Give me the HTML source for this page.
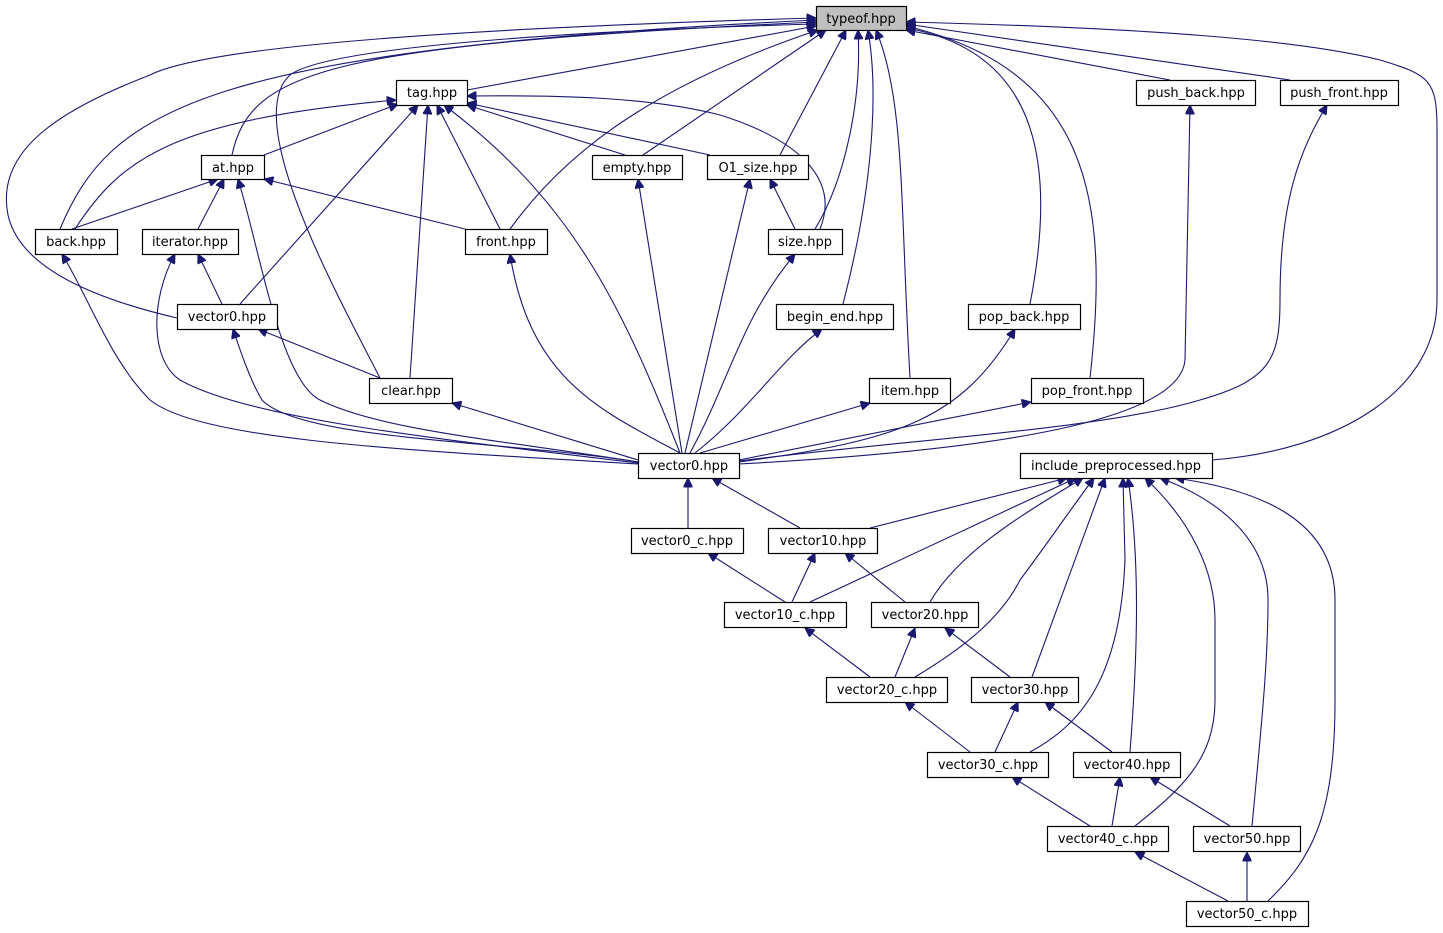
<!DOCTYPE html>
<html><head><meta charset="utf-8"><style>
html,body{margin:0;padding:0;background:#fff;}
svg{display:block}
text{font-family:"DejaVu Sans","Liberation Sans",sans-serif;font-size:13px;fill:#000;text-anchor:middle}
rect{fill:#fff;stroke:#000;stroke-width:1.2}
path{fill:none;stroke:#191970;stroke-width:1.1}
</style></head><body>
<svg width="1443" height="933" viewBox="0 0 1443 933" xmlns="http://www.w3.org/2000/svg">
<defs><marker id="a" viewBox="0 0 10 10" refX="10" refY="5" markerWidth="10" markerHeight="9" markerUnits="userSpaceOnUse" orient="auto"><path d="M0,0 L10,5 L0,10 z" style="fill:#191970;stroke:#191970"/></marker></defs>
<g marker-end="url(#a)">
<!-- to typeof -->
<path d="M467,90 L816,26"/>
<path d="M232,155 C250,70 330,45 816,22"/>
<path d="M60,229 C110,110 200,50 816,20"/>
<path d="M177,318 C100,300 20,270 8,215 C-5,150 60,110 150,75 C200,50 400,30 816,18"/>
<path d="M380,378 C340,300 240,120 290,75 C330,45 600,30 816,24"/>
<path d="M510,229 C560,160 640,90 818,30"/>
<path d="M643,155 L826,30"/>
<path d="M780,155 L846,30"/>
<path d="M815,229 C845,180 862,100 858,30"/>
<path d="M843,304 C870,200 880,100 868,30"/>
<path d="M910,378 C900,200 905,100 876,30"/>
<path d="M1030,304 C1060,150 1030,50 906,28"/>
<path d="M1090,378 C1110,200 1090,70 906,26"/>
<path d="M1170,80 L906,30"/>
<path d="M1290,80 L906,24"/>
<path d="M1212,460 C1340,450 1437,390 1437,300 L1437,130 C1437,80 1430,75 1380,60 C1300,40 1150,28 906,22"/>
<!-- to tag -->
<path d="M264,155 L398,104"/>
<path d="M75,229 C120,160 170,120 396,100"/>
<path d="M240,304 L418,105"/>
<path d="M410,378 L428,105"/>
<path d="M500,229 L437,105"/>
<path d="M680,453 C620,300 570,200 444,105"/>
<path d="M625,155 L467,105"/>
<path d="M710,155 L467,103"/>
<path d="M820,229 C840,180 800,140 720,115 C650,97 560,95 467,96"/>
<!-- to at -->
<path d="M72,229 L218,179"/>
<path d="M198,229 L224,179"/>
<path d="M465,229 L264,179"/>
<path d="M638,462 C500,440 380,430 320,400 C280,380 260,250 238,179"/>
<!-- back, iterator, vector0 upper -->
<path d="M638,464 C400,450 200,440 150,400 C110,360 90,300 62,254"/>
<path d="M222,304 L198,254"/>
<path d="M638,463 C450,440 250,420 180,380 C150,360 150,300 175,254"/>
<path d="M380,378 L258,329"/>
<path d="M638,462 C500,440 300,440 262,400 C250,380 240,350 233,329"/>
<path d="M638,460 L452,403"/>
<path d="M680,453 C600,410 530,380 510,254"/>
<path d="M682,453 L638,179"/>
<path d="M685,453 L750,179"/>
<path d="M795,229 L770,179"/>
<path d="M690,453 C730,380 740,320 795,254"/>
<path d="M695,453 C750,410 780,360 822,329"/>
<path d="M700,453 L870,403"/>
<path d="M739,462 C900,440 960,420 1015,329"/>
<path d="M739,460 L1031,402"/>
<path d="M739,464 C1000,450 1180,420 1185,360 L1190,105"/>
<path d="M739,461 C900,440 1100,430 1200,400 C1270,380 1280,360 1280,300 C1280,200 1300,150 1327,105"/>
<!-- lower -->
<path d="M688,528 L688,478"/>
<path d="M800,528 L712,478"/>
<path d="M870,528 L1067,478"/>
<path d="M785,602 L708,553"/>
<path d="M792,602 L815,553"/>
<path d="M810,602 L1076,478"/>
<path d="M905,602 L845,553"/>
<path d="M930,602 C960,550 1030,510 1083,478"/>
<path d="M870,677 L805,628"/>
<path d="M895,677 L915,628"/>
<path d="M915,677 C960,650 1000,620 1020,580 C1050,540 1070,510 1094,478"/>
<path d="M1010,677 L945,628"/>
<path d="M1032,677 L1105,478"/>
<path d="M970,752 L905,702"/>
<path d="M995,752 L1018,702"/>
<path d="M1030,752 C1080,725 1120,680 1125,560 L1123,478"/>
<path d="M1112,752 L1045,702"/>
<path d="M1130,752 C1138,650 1140,560 1128,478"/>
<path d="M1090,826 L1012,777"/>
<path d="M1112,826 L1120,777"/>
<path d="M1135,826 C1180,790 1215,760 1215,700 L1215,620 C1215,570 1190,520 1145,478"/>
<path d="M1230,826 L1150,777"/>
<path d="M1252,826 C1262,720 1268,660 1268,600 C1268,540 1220,500 1160,478"/>
<path d="M1228,901 L1135,852"/>
<path d="M1247,901 L1247,852"/>
<path d="M1268,901 C1310,860 1335,820 1335,700 L1335,600 C1335,520 1260,490 1175,478"/>
</g>
<g>
<rect x="816.5" y="6.5" width="90" height="24" style="fill:#bfbfbf"/><text x="861" y="23">typeof.hpp</text>
<rect x="396.5" y="80.5" width="71" height="25"/><text x="432" y="97">tag.hpp</text>
<rect x="1136.5" y="80.5" width="119" height="25"/><text x="1196" y="97">push_back.hpp</text>
<rect x="1280.5" y="80.5" width="118" height="25"/><text x="1339" y="97">push_front.hpp</text>
<rect x="201.5" y="155.5" width="63" height="24"/><text x="233" y="172">at.hpp</text>
<rect x="592.5" y="155.5" width="90" height="24"/><text x="637" y="172">empty.hpp</text>
<rect x="707.5" y="155.5" width="101" height="24"/><text x="758" y="172">O1_size.hpp</text>
<rect x="35.5" y="229.5" width="82" height="25"/><text x="76" y="246">back.hpp</text>
<rect x="142.5" y="229.5" width="96" height="25"/><text x="190" y="246">iterator.hpp</text>
<rect x="465.5" y="229.5" width="82" height="25"/><text x="506" y="246">front.hpp</text>
<rect x="768.5" y="229.5" width="74" height="25"/><text x="805" y="246">size.hpp</text>
<rect x="177.5" y="304.5" width="100" height="25"/><text x="227" y="321">vector0.hpp</text>
<rect x="776.5" y="304.5" width="117" height="25"/><text x="835" y="321">begin_end.hpp</text>
<rect x="968.5" y="304.5" width="112" height="25"/><text x="1024" y="321">pop_back.hpp</text>
<rect x="369.5" y="378.5" width="83" height="25"/><text x="411" y="395">clear.hpp</text>
<rect x="869.5" y="378.5" width="81" height="25"/><text x="910" y="395">item.hpp</text>
<rect x="1031.5" y="378.5" width="112" height="25"/><text x="1087" y="395">pop_front.hpp</text>
<rect x="638.5" y="453.5" width="101" height="25"/><text x="689" y="470">vector0.hpp</text>
<rect x="1020.5" y="453.5" width="192" height="25"/><text x="1116" y="470">include_preprocessed.hpp</text>
<rect x="631.5" y="528.5" width="112" height="25"/><text x="687" y="545">vector0_c.hpp</text>
<rect x="768.5" y="528.5" width="109" height="25"/><text x="823" y="545">vector10.hpp</text>
<rect x="724.5" y="602.5" width="122" height="25"/><text x="785" y="619">vector10_c.hpp</text>
<rect x="871.5" y="602.5" width="107" height="25"/><text x="925" y="619">vector20.hpp</text>
<rect x="826.5" y="677.5" width="121" height="25"/><text x="887" y="694">vector20_c.hpp</text>
<rect x="971.5" y="677.5" width="107" height="25"/><text x="1025" y="694">vector30.hpp</text>
<rect x="927.5" y="752.5" width="121" height="25"/><text x="988" y="769">vector30_c.hpp</text>
<rect x="1073.5" y="752.5" width="107" height="25"/><text x="1127" y="769">vector40.hpp</text>
<rect x="1047.5" y="826.5" width="121" height="25"/><text x="1108" y="843">vector40_c.hpp</text>
<rect x="1193.5" y="826.5" width="107" height="25"/><text x="1247" y="843">vector50.hpp</text>
<rect x="1186.5" y="901.5" width="122" height="25"/><text x="1247" y="918">vector50_c.hpp</text>
</g>
</svg>
</body></html>
